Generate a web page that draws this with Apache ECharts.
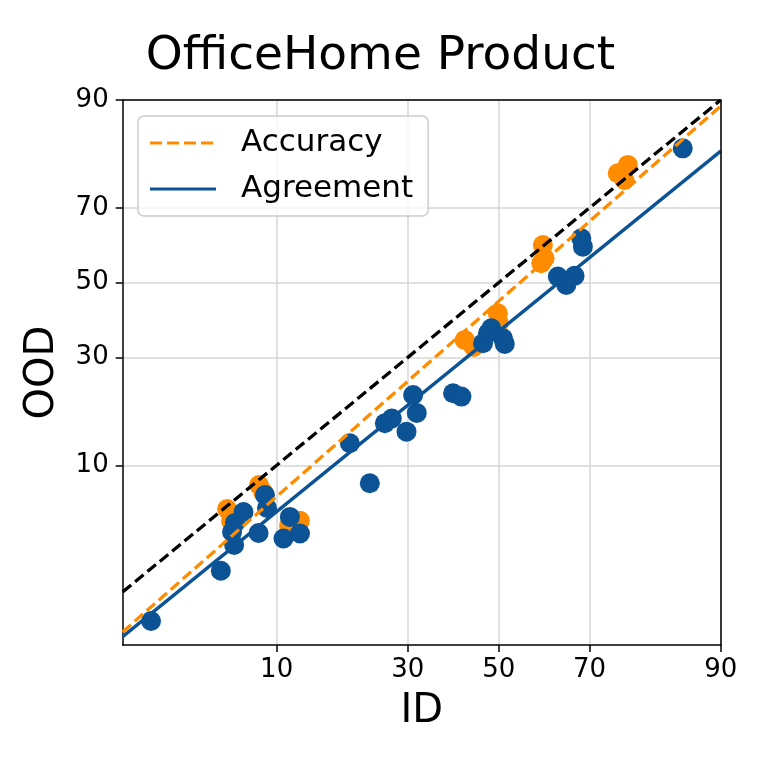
<!DOCTYPE html>
<html>
<head>
<meta charset="utf-8">
<script src="https://cdn.jsdelivr.net/npm/echarts@6/dist/echarts.min.js"></script>
<style>html,body{margin:0;padding:0;background:#fff}#chart{width:761px;height:761px}</style>
</head>
<body>
<div id="chart"></div>
<script>
// ---- data (percent) ----
const tickLabels = [10, 30, 50, 70, 90];
const xLimits = [1.5, 90];
const yLimits = [0.55, 90];

const accuracyID  = [5.85, 6.12, 8.33, 8.69, 12.57, 11.31, 42.23, 44.27, 49.8, 50.0, 60.07, 60.45, 59.7, 75.4, 77.2, 76.6];
const accuracyOOD = [5.61, 4.73, 7.78, 7.09, 4.73, 4.39, 34.38, 32.6, 41.5, 38.9, 60.4, 56.8, 55.4, 77.87, 79.56, 76.44];

const agreementID  = [2.24, 5.44, 6.34, 6.19, 6.40, 7.04, 8.87, 9.06, 8.29, 10.71, 11.41, 12.57,
                      19.52, 22.85, 25.56, 26.87, 29.74, 31.07, 31.82, 39.62, 41.49,
                      47.54, 46.4, 51.0, 48.3, 51.4, 68.32, 68.65, 63.37, 65.19, 66.93, 85.6];
const agreementOOD = [0.88, 2.16, 3.28, 4.01, 4.59, 5.38, 6.81, 5.69, 3.95, 3.63, 5.01, 3.92,
                      12.99, 7.96, 16.19, 17.03, 14.78, 21.53, 18.03, 21.89, 21.19,
                      36.13, 33.54, 34.8, 37.45, 33.36, 62.24, 59.97, 51.7, 49.36, 51.9, 82.7];

// linear fits in probit space: [slope, intercept]
const accuracyFit  = [1.069, -0.131];
const agreementFit = [0.987, -0.342];

const titleText = 'OfficeHome Product';
const xName = 'ID';
const yName = 'OOD';

// ---- probit transform (inverse normal CDF, Acklam) ----
function probit(p) {
  const a = [-3.969683028665376e+01, 2.209460984245205e+02, -2.759285104469687e+02, 1.383577518672690e+02, -3.066479806614716e+01, 2.506628277459239e+00];
  const b = [-5.447609879822406e+01, 1.615858368580409e+02, -1.556989798598866e+02, 6.680131188771972e+01, -1.328068155288572e+01];
  const c = [-7.784894002430293e-03, -3.223964580411365e-01, -2.400758277161838e+00, -2.549732539343734e+00, 4.374664141464968e+00, 2.938163982698783e+00];
  const d = [7.784695709041462e-03, 3.224671290700398e-01, 2.445134137142996e+00, 3.754408661907416e+00];
  const pl = 0.02425, ph = 1 - pl;
  let q, r;
  if (p < pl) {
    q = Math.sqrt(-2 * Math.log(p));
    return (((((c[0]*q+c[1])*q+c[2])*q+c[3])*q+c[4])*q+c[5]) / ((((d[0]*q+d[1])*q+d[2])*q+d[3])*q+1);
  } else if (p <= ph) {
    q = p - 0.5; r = q * q;
    return (((((a[0]*r+a[1])*r+a[2])*r+a[3])*r+a[4])*r+a[5])*q / (((((b[0]*r+b[1])*r+b[2])*r+b[3])*r+b[4])*r+1);
  } else {
    q = Math.sqrt(-2 * Math.log(1 - p));
    return -(((((c[0]*q+c[1])*q+c[2])*q+c[3])*q+c[4])*q+c[5]) / ((((d[0]*q+d[1])*q+d[2])*q+d[3])*q+1);
  }
}
const P = v => probit(v / 100);

const tickVals = tickLabels.map(P);
function tickFmt(v) {
  let best = 0, bd = Infinity;
  tickVals.forEach((t, i) => { const dd = Math.abs(t - v); if (dd < bd) { bd = dd; best = i; } });
  return String(tickLabels[best]);
}

const xMin = P(xLimits[0]), xMax = P(xLimits[1]);
const yMin = P(yLimits[0]), yMax = P(yLimits[1]);

const accPts = accuracyID.map((x, i) => [P(x), P(accuracyOOD[i])]);
const agrPts = agreementID.map((x, i) => [P(x), P(agreementOOD[i])]);
const fitLine = f => [[xMin, f[0] * xMin + f[1]], [xMax, f[0] * xMax + f[1]]];
const diagLine = [[xMin, xMin], [xMax, xMax]];

const ORANGE = '#ff8c00';
const BLUE = '#0b5394';
const FONT = 'DejaVu Sans';

const axisCommon = {
  type: 'value',
  axisLine: { show: true, onZero: false, lineStyle: { color: '#000', width: 1.5 } },
  axisTick: { show: true, inside: false, length: 7, lineStyle: { color: '#000', width: 1.5 }, customValues: tickVals },
  axisLabel: { customValues: tickVals, formatter: tickFmt, color: '#000', fontSize: 26, fontFamily: FONT },
  splitLine: { show: true, lineStyle: { color: '#d6d6d6', width: 1.5 } },
  nameLocation: 'middle',
  nameTextStyle: { color: '#000', fontSize: 40, fontFamily: FONT },
  z: 1
};
const frameAxis = {
  type: 'value',
  axisLine: { show: true, onZero: false, lineStyle: { color: '#000', width: 1.5 } },
  axisTick: { show: false }, axisLabel: { show: false }, splitLine: { show: false },
  z: 10
};

const dashIcon = 'path://M0,0H12V3H0Z M17,0H29V3H17Z M34,0H46V3H34Z M51,0H63V3H51Z M66,0H66.01V3H66Z';
const solidIcon = 'path://M0,0H66V3H0Z';

const chart = echarts.init(document.getElementById('chart'), null, { renderer: 'canvas' });
chart.setOption({
  animation: false,
  backgroundColor: '#fff',
  title: {
    text: titleText, left: 'center', top: 33, padding: 0,
    textStyle: { color: '#000', fontSize: 47, fontWeight: 'normal', fontFamily: FONT }
  },
  grid: { left: 122.7, right: 40.3, top: 100, bottom: 116 },
  legend: {
    data: [{ name: 'Accuracy', icon: dashIcon }, { name: 'Agreement', icon: solidIcon }],
    orient: 'vertical', left: 138, top: 116,
    padding: [10, 15, 10, 12],
    itemWidth: 66, itemHeight: 3.3, itemGap: 12,
    backgroundColor: 'rgba(255,255,255,0.8)',
    borderColor: '#cccccc', borderWidth: 1.5, borderRadius: 6,
    textStyle: { color: '#000', fontSize: 31, fontFamily: FONT, lineHeight: 34, padding: [0, 0, 0, 20] }
  },
  xAxis: [
    Object.assign({}, axisCommon, {
      min: xMin, max: xMax, name: xName, nameGap: 47, position: 'bottom',
      axisLabel: Object.assign({}, axisCommon.axisLabel, { margin: 12 })
    }),
    Object.assign({}, frameAxis, { min: xMin, max: xMax, position: 'top' })
  ],
  yAxis: [
    Object.assign({}, axisCommon, {
      min: yMin, max: yMax, name: yName, nameGap: 60, nameRotate: 90, position: 'left',
      axisLabel: Object.assign({}, axisCommon.axisLabel, { margin: 14 })
    }),
    Object.assign({}, frameAxis, { min: yMin, max: yMax, position: 'right' })
  ],
  series: [
    { name: 'accuracyPoints', type: 'scatter', data: accPts, symbolSize: 20, itemStyle: { color: ORANGE, opacity: 1 }, z: 2 },
    { name: 'agreementPoints', type: 'scatter', data: agrPts, symbolSize: 20, itemStyle: { color: BLUE, opacity: 1 }, z: 3 },
    { name: 'diag', type: 'line', data: diagLine, symbol: 'none', lineStyle: { color: '#000', width: 3.3, type: [11, 5] }, z: 4 },
    { name: 'Accuracy', type: 'line', data: fitLine(accuracyFit), symbol: 'none', lineStyle: { color: ORANGE, width: 3.3, type: [11, 5] }, itemStyle: { color: ORANGE }, z: 5 },
    { name: 'Agreement', type: 'line', data: fitLine(agreementFit), symbol: 'none', lineStyle: { color: BLUE, width: 3.3 }, itemStyle: { color: BLUE }, z: 5 }
  ]
});
</script>
</body>
</html>
